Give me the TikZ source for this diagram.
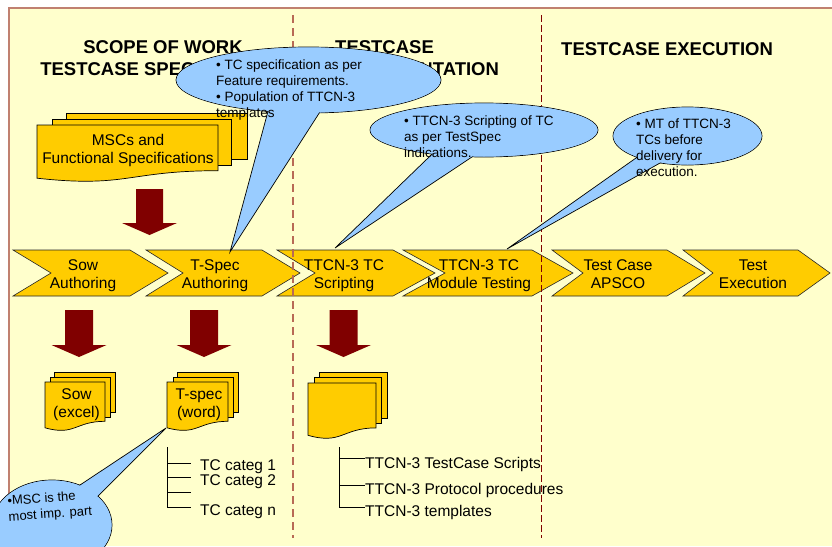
\documentclass[tikz,border=0pt]{standalone}
\usepackage{fontspec}
\setmainfont{Liberation Sans}
\definecolor{bgy}{HTML}{FFFFCC}
\definecolor{borderc}{HTML}{C08070}
\definecolor{dashc}{HTML}{B86A55}
\definecolor{darkred}{HTML}{800000}
\definecolor{gold}{HTML}{FFCC00}
\definecolor{lblue}{HTML}{99CCFF}
\tikzset{
  chev/.style={fill=gold, draw=black!85, line width=0.6pt, line join=miter},
  docpage/.style={fill=gold, draw=black, line width=0.7pt},
  blk/.style={fill=darkred},
  bubble/.style={fill=lblue, draw=black, line width=0.7pt},
  lbl/.style={inner sep=0pt, font=\fontsize{15.5}{18}\selectfont, align=center},
  doctxt/.style={inner sep=0pt, font=\fontsize{15.5}{18.5}\selectfont, align=center},
  item/.style={inner sep=0pt, font=\fontsize{15.5}{18}\selectfont},
  hdr/.style={inner sep=0pt, font=\fontsize{18.5}{22}\selectfont\bfseries},
  ctxt/.style={inner sep=0pt, font=\fontsize{13.5}{16}\selectfont, align=left},
  tree/.style={draw=black, line width=0.7pt},
}
\newcommand\chevshape[4]{%
  \draw[chev] (#1,250) -- (#3,250) -- (#4,273) -- (#3,296) -- (#1,296) -- (#2,273) -- cycle;}
\newcommand\blkarrow[6]{%
  \fill[blk] ({#1-#5},#2) -- ({#1+#5},#2) -- ({#1+#5},#3) -- ({#1+#6},#3) -- (#1,#4) -- ({#1-#6},#3) -- ({#1-#5},#3) -- cycle;}
\begin{document}
\begin{tikzpicture}[x=1pt,y=-1pt]
\useasboundingbox (0,0) rectangle (832,546);
\clip (0,0) rectangle (832,546);
\fill[white] (0,0) rectangle (832,546);
\fill[bgy] (9,8) rectangle (832,546);
\draw[borderc, line width=1.3pt] (9,546) -- (9,8) -- (832,8);

% headers
\node[hdr, align=center, anchor=north] (h1) at (163,40) {SCOPE OF WORK\\TESTCASE SPECIFICATION};
\node[hdr, align=left, anchor=north west] (h2) at (335,40.5) {TESTCASE\\IMPLEMENTATION};
\node[hdr, anchor=north west] (h3) at (561,42) {TESTCASE EXECUTION};

% MSC document stack
\draw[docpage] (66,113) rectangle (247,159);
\draw[docpage] (52,119) rectangle (231,165);
\draw[docpage] (37,125) -- (218,125) -- (218,170.7) .. controls (127.5,170.7) and (127.5,188.1) .. (37,178.2) -- cycle;
\node[doctxt, anchor=north] (msc) at (128,133.8) {MSCs and\\Functional Specifications};

% Sow document stack
\draw[docpage] (54,372) rectangle (115,412);
\draw[docpage] (50,377) rectangle (110,417);
\draw[docpage] (45,382) -- (105,382) -- (105,421.3) .. controls (75,421.3) and (75,436.2) .. (45,427.8) -- cycle;
\node[doctxt, anchor=north] (sowdoc) at (76.5,388.2) {Sow\\(excel)};

% T-spec document stack
\draw[docpage] (177,372) rectangle (238,412);
\draw[docpage] (173,377) rectangle (233,417);
\draw[docpage] (167,382) -- (228,382) -- (228,421.3) .. controls (197.5,421.3) and (197.5,436.2) .. (167,427.8) -- cycle;
\node[doctxt, anchor=north] (tspecdoc) at (199,388.2) {T-spec\\(word)};

% TTCN document stack
\draw[docpage] (319,372) rectangle (387,418);
\draw[docpage] (314,377) rectangle (381,423);
\draw[docpage] (308,383) -- (376,383) -- (376,427.9) .. controls (342,427.9) and (342,445) .. (308,435.3) -- cycle;
\coordinate (ttcndoc) at (342,405);

% block arrows
\blkarrow{149.5}{189}{223}{235}{13.5}{27.5}
\blkarrow{79}{310}{345}{357}{14}{27.5}
\blkarrow{204}{310}{345}{357}{14}{27.5}
\blkarrow{343.5}{310}{345}{357}{14}{27.5}

% chevrons
\chevshape{13}{51}{130}{168}
\chevshape{146}{183}{262}{300}
\chevshape{277}{315}{393}{435}
\chevshape{403}{445}{532}{573}
\chevshape{552}{583}{667}{705}
\chevshape{683}{713}{798}{830}
\node[lbl, anchor=north] (s1) at (83,259.5) {Sow\\Authoring};
\node[lbl, anchor=north] (s2) at (215,259.5) {T-Spec\\Authoring};
\node[lbl, anchor=north] (s3) at (344,259.5) {TTCN-3 TC\\Scripting};
\node[lbl, anchor=north] (s4) at (479,259.5) {TTCN-3 TC\\Module Testing};
\node[lbl, anchor=north] (s5) at (618,259.5) {Test Case\\APSCO};
\node[lbl, anchor=north] (s6) at (753,259.5) {Test\\Execution};

% T-spec tree
\coordinate (ta) at (167,447);
\coordinate (tb) at (167,507);
\draw[tree] (ta) -- (tb);
\foreach \yy in {463,477,492,507} \draw[tree] (167,\yy) -- (191,\yy);
\node[item, anchor=base west] (cat1) at (200,470) {TC categ 1};
\node[item, anchor=base west] (cat2) at (200,485) {TC categ 2};
\node[item, anchor=base west] (catn) at (200,515) {TC categ n};

% TTCN tree
\coordinate (ua) at (339,447);
\coordinate (ub) at (339,507);
\draw[tree] (ua) -- (ub);
\node[item, anchor=base west] (li1) at (365,468) {TTCN-3 TestCase Scripts};
\node[item, anchor=base west] (li2) at (365,494) {TTCN-3 Protocol procedures};
\node[item, anchor=base west] (li3) at (365,516) {TTCN-3 templates};
\draw[tree] (339,458) -- (li1.west |- 0,458);
\draw[tree] (339,485) -- (li2.west |- 0,485);
\draw[tree] (339,507) -- (li3.west |- 0,507);

% dashed separators
\draw[dashc, line width=1.3pt, dash pattern=on 8pt off 5pt] (293,15) -- (293,538);
\draw[darkred, line width=1pt, dash pattern=on 7pt off 3pt] (541.7,15) -- (541.7,538);

% callout 1
\draw[bubble] (308.5,80) ellipse [x radius=132.5, y radius=33];
\draw[bubble] (269.7,105) -- (230,252) -- (324.4,105);
\fill[lblue] (308.5,80) ellipse [x radius=132, y radius=32.5];
\node[ctxt, anchor=north west] (c1t) at (216,60) {• TC specification as per\\Feature requirements.\\• Population of TTCN-3\\templates};

% callout 2
\draw[bubble] (484,130) ellipse [x radius=114, y radius=27];
\draw[bubble] (436.3,150) -- (335,248) -- (482.5,150);
\fill[lblue] (484,130) ellipse [x radius=113.5, y radius=26.5];
\node[ctxt, anchor=north west] (c2t) at (404,115.5) {• TTCN-3 Scripting of TC\\as per TestSpec\\indications.};

% callout 3
\draw[bubble] (687.5,136) ellipse [x radius=74.5, y radius=29];
\draw[bubble] (644.5,152) -- (507,249) -- (679.6,152);
\fill[lblue] (687.5,136) ellipse [x radius=74, y radius=28.5];
\node[ctxt, anchor=north west] (c3t) at (636,119) {• MT of TTCN-3\\TCs before\\delivery for\\execution.};

% callout 4
\draw[bubble] (52,525) ellipse [x radius=60, y radius=45];
\draw[bubble] (66.4,494) -- (166,428) -- (86.8,507.2);
\fill[lblue] (52,525) ellipse [x radius=59.5, y radius=44.5];
\node[ctxt, font=\fontsize{13}{16}\selectfont, anchor=north west, rotate=4] (c4t) at (7,495.5) {•MSC is the\\most imp. part};
\end{tikzpicture}
\end{document}
